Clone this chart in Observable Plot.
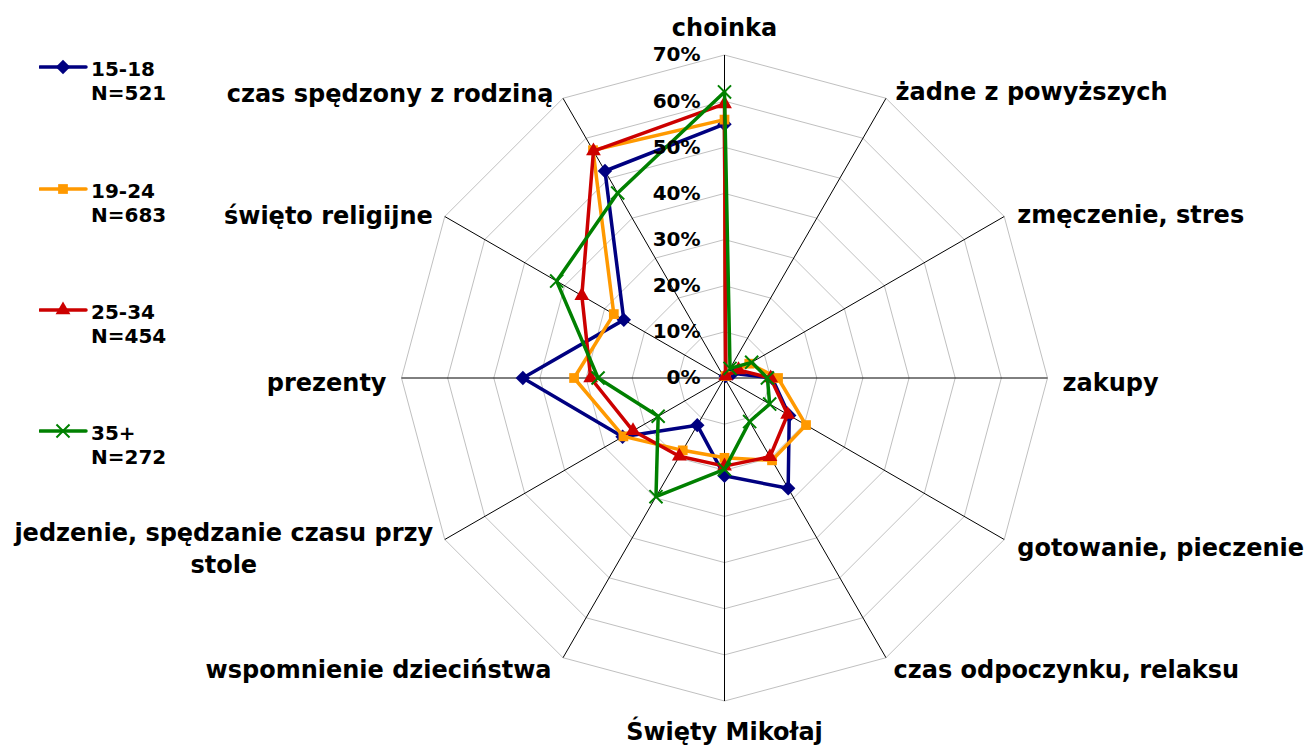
<!DOCTYPE html>
<html><head><meta charset="utf-8">
<script src="https://cdn.jsdelivr.net/npm/d3@7"></script>
<script src="https://cdn.jsdelivr.net/npm/@observablehq/plot@0.6"></script>
<style>
body{margin:0;background:#fff;font-family:"DejaVu Sans",Verdana,sans-serif;}
#wrap{position:relative;width:1307px;height:747px;overflow:hidden;}
#chart{position:absolute;left:0;top:0;}
.lg-sw{position:absolute;left:39px;}
.lg-tx{position:absolute;left:91px;font-size:20px;font-weight:bold;line-height:24px;color:#000;white-space:nowrap;}
</style></head><body>
<div id="wrap"><div id="chart"></div><div id="legend"></div></div>
<script>
// ---- data ----
const categories = ["choinka","żadne z powyższych","zmęczenie, stres","zakupy","gotowanie, pieczenie","czas odpoczynku, relaksu","Święty Mikołaj","wspomnienie dzieciństwa","jedzenie, spędzanie czasu przy\nstole","prezenty","święto religijne","czas spędzony z rodziną"];
const seriesNames = ["15-18","19-24","25-34","35+"];
const seriesN = ["N=521","N=683","N=454","N=272"];
const v15_18 = [55, 0.5, 2, 10.3, 16.2, 27.6, 21.2, 11.8, 25.5, 43.7, 25.2, 51.8];
const v19_24 = [56, 0.5, 6.2, 11.6, 20.4, 20.6, 17.3, 18.1, 25.3, 32.6, 27.7, 57];
const v25_34 = [59.4, 0.5, 3.5, 10, 15.8, 19.7, 19.1, 19.6, 22.9, 29, 35.7, 56.8];
const v35 = [62, 2.4, 6.8, 9.3, 11.3, 10.9, 19.8, 29.7, 16.6, 27.4, 42, 46.3];
const tickValues = [0,10,20,30,40,50,60,70];
const tickLabels = ["0%","10%","20%","30%","40%","50%","60%","70%"];

// ---- style / layout ----
const colors = ["#000080","#FF9900","#CC0000","#008000"];
const symbols = ["diamond2","square","triangle","times"];
const radii = [6.5,5.5,5.5,6];
const seriesValues = [v15_18, v19_24, v25_34, v35];
const W = 1307, H = 747, cx = 724, cy = 377.5, maxV = 70, k = 323/70;
// label pixel offsets from the outer end of each spoke
const labelOffsets = [[0,-29],[9.5,-8],[13,-4],[15,2.5],[13,6],[7.5,10],[0,28.8],[-11.5,10],[-221,7],[-15,2.5],[-12,-3],[-9.5,-6]];
const labelAnchors = ["middle","start","start","start","start","start","middle","end","middle","end","end","end"];
const font = '"DejaVu Sans", Verdana, sans-serif';

const n = categories.length;
const ang = i => i * 2 * Math.PI / n;
const px = (v, i) => v * Math.sin(ang(i));
const py = (v, i) => v * Math.cos(ang(i));

const grid = [];
for (const L of tickValues.filter(t => t > 0))
  for (let i = 0; i <= n; i++) grid.push({level: L, x: px(L, i % n), y: py(L, i % n)});
const spokes = categories.map((c, i) => ({x2: px(maxV, i), y2: py(maxV, i)}));
const labels = categories.map((c, i) => ({
  text: c, anchor: labelAnchors[i],
  x: px(maxV, i) + labelOffsets[i][0] / k,
  y: py(maxV, i) - labelOffsets[i][1] / k
}));

const marks = [
  Plot.line(grid, {x: "x", y: "y", z: "level", stroke: "#c0c0c0", strokeWidth: 1, strokeLinecap: "butt", strokeLinejoin: "miter"}),
  Plot.link(spokes, {x1: () => 0, y1: () => 0, x2: "x2", y2: "y2", stroke: "#000", strokeWidth: 1})
];
seriesValues.forEach((vals, s) => {
  const pts = vals.map((v, i) => ({x: px(v, i), y: py(v, i)}));
  marks.push(Plot.line([...pts, pts[0]], {x: "x", y: "y", stroke: colors[s], strokeWidth: 3.5, strokeLinejoin: "miter"}));
  if (symbols[s] === "times")
    marks.push(Plot.dot(pts, {x: "x", y: "y", symbol: symbols[s], r: radii[s], stroke: colors[s], strokeWidth: 2, fill: "none"}));
  else
    marks.push(Plot.dot(pts, {x: "x", y: "y", symbol: symbols[s], r: radii[s], fill: colors[s], stroke: "none"}));
});
marks.push(Plot.text(tickValues, {x: () => 0, y: d => d, text: (d, i) => tickLabels[i], textAnchor: "end", dx: -24, fontSize: 20, fontWeight: "bold", fill: "#000"}));
for (const a of ["start","middle","end"])
  marks.push(Plot.text(labels.filter(l => l.anchor === a), {x: "x", y: "y", text: "text", textAnchor: a, lineHeight: 1.33, fontSize: 24, fontWeight: "bold", fill: "#000"}));

const chart = Plot.plot({
  width: W, height: H, margin: 0,
  style: {fontFamily: font, background: "white"},
  x: {domain: [-cx / k, (W - cx) / k], axis: null},
  y: {domain: [-(H - cy) / k, cy / k], axis: null},
  marks
});
document.getElementById("chart").append(chart);

// ---- legend ----
const legend = d3.select("#legend");
const legendY = [67.3, 188.5, 309.8, 430.8];
const symMap = {diamond2: d3.symbolDiamond2, square: d3.symbolSquare, triangle: d3.symbolTriangle, times: d3.symbolTimes};
seriesNames.forEach((name, s) => {
  const y = legendY[s];
  const sw = legend.append("svg").attr("class", "lg-sw").attr("width", 50).attr("height", 24)
    .style("top", (y - 12) + "px");
  sw.append("line").attr("x1", 1).attr("x2", 47).attr("y1", 12).attr("y2", 12)
    .attr("stroke", colors[s]).attr("stroke-width", 3.5).attr("stroke-linecap", "round");
  const p = d3.symbol(symMap[symbols[s]], Math.PI * radii[s] * radii[s])();
  const m = sw.append("path").attr("d", p).attr("transform", "translate(24,12)");
  if (symbols[s] === "times") m.attr("fill", "none").attr("stroke", colors[s]).attr("stroke-width", 2);
  else m.attr("fill", colors[s]);
  legend.append("div").attr("class", "lg-tx").style("top", (y - 10) + "px")
    .html(name + "<br>" + seriesN[s]);
});
</script>
</body></html>
